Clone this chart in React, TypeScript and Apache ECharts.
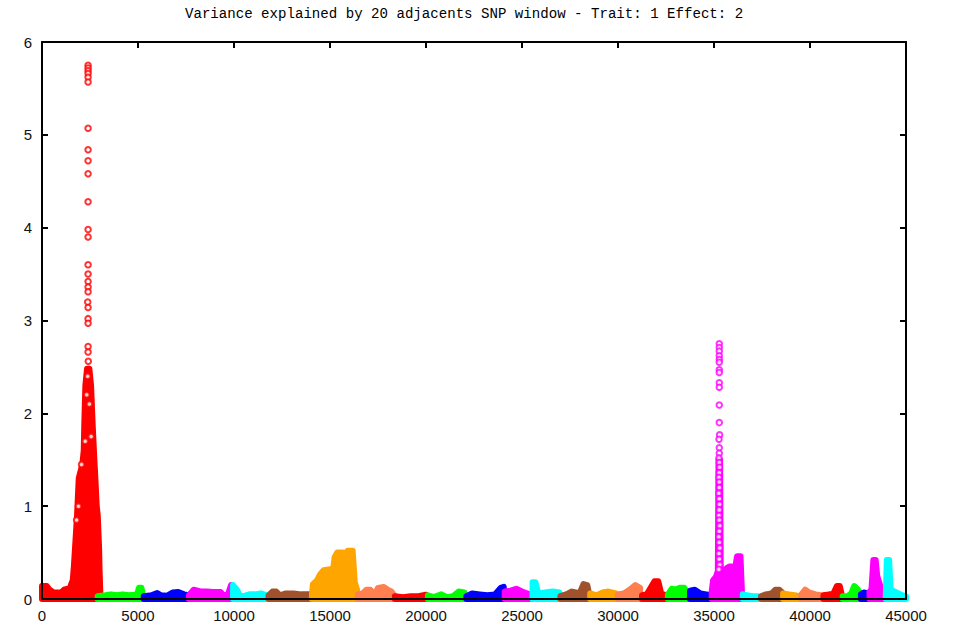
import React, { useEffect, useRef } from "react";
import * as echarts from "echarts";

type Pt = [number, number];

const titleText = "Variance explained by 20 adjacents SNP window - Trait: 1 Effect: 2";
const palette = ["#ff0000", "#00ff00", "#0000ff", "#ff00ff", "#00ffff", "#a0522d", "#ffa500", "#ff7f50"];
const xTickStep = 5000;
const yTickStep = 1;

// envelope (upper hull) of each chromosome's windows
const chr01: Pt[] = [[0, 0.14], [250, 0.14], [400, 0.1], [600, 0.07], [1000, 0.07], [1150, 0.1], [1300, 0.11], [1450, 0.11], [1520, 0.16], [1600, 0.2], [1660, 0.35], [1720, 0.55], [1825, 0.9], [1913, 1.3], [2000, 1.37], [2100, 1.45], [2174, 1.6], [2200, 1.86], [2258, 2.3], [2346, 2.48], [2467, 2.48], [2555, 2.3], [2643, 1.86], [2727, 1.5], [2780, 1.3], [2850, 1.0], [2904, 0.9], [2975, 0.54], [3000, 0.3], [3024, 0.15], [3040, 0.05]];
const chr02: Pt[] = [[2900, 0.03], [3300, 0.04], [3600, 0.05], [3900, 0.04], [4200, 0.05], [4500, 0.04], [4800, 0.045], [4950, 0.05], [5050, 0.12], [5180, 0.12], [5250, 0.05]];
const chr03: Pt[] = [[5300, 0.03], [5700, 0.04], [6000, 0.065], [6200, 0.04], [6500, 0.035], [6800, 0.07], [7100, 0.075], [7400, 0.05], [7620, 0.04]];
const chr04: Pt[] = [[7650, 0.04], [7900, 0.1], [8100, 0.09], [8300, 0.08], [8600, 0.08], [8900, 0.075], [9300, 0.075], [9500, 0.03], [9700, 0.06], [9850, 0.15], [9920, 0.14]];
const chr05: Pt[] = [[9950, 0.15], [10150, 0.1], [10300, 0.04], [10500, 0.03], [10800, 0.05], [11100, 0.05], [11400, 0.06], [11700, 0.04]];
const chr06: Pt[] = [[11800, 0.04], [12000, 0.08], [12200, 0.08], [12400, 0.04], [12700, 0.06], [13100, 0.06], [13500, 0.05], [14000, 0.05]];
const chr07: Pt[] = [[14060, 0.05], [14110, 0.16], [14320, 0.2], [14500, 0.27], [14670, 0.31], [15020, 0.32], [15140, 0.28], [15240, 0.45], [15370, 0.5], [15680, 0.5], [15760, 0.25], [15920, 0.52], [16180, 0.52], [16290, 0.18], [16410, 0.1]];
const chr08: Pt[] = [[16450, 0.05], [16700, 0.06], [16900, 0.1], [17100, 0.1], [17300, 0.04], [17500, 0.12], [17800, 0.13], [18000, 0.1], [18200, 0.08], [18350, 0.04]];
const chr09: Pt[] = [[18380, 0.03], [18800, 0.02], [19200, 0.03], [19600, 0.03], [20000, 0.045]];
const chr10: Pt[] = [[20100, 0.04], [20400, 0.02], [20800, 0.05], [21100, 0.02], [21400, 0.03], [21700, 0.08], [22000, 0.07]];
const chr11: Pt[] = [[22100, 0.03], [22400, 0.06], [22800, 0.05], [23200, 0.04], [23600, 0.05], [23900, 0.12], [24050, 0.13]];
const chr12: Pt[] = [[24100, 0.08], [24400, 0.09], [24700, 0.11], [25000, 0.08], [25400, 0.05]];
const chr13: Pt[] = [[25550, 0.18], [25700, 0.18], [25850, 0.06], [26200, 0.07], [26600, 0.08], [26950, 0.07]];
const chr14: Pt[] = [[27000, 0.03], [27300, 0.05], [27600, 0.08], [27800, 0.07], [28000, 0.06], [28200, 0.16], [28400, 0.15], [28500, 0.05]];
const chr15: Pt[] = [[28550, 0.06], [28900, 0.04], [29200, 0.07], [29500, 0.08], [29900, 0.06]];
const chr16: Pt[] = [[30000, 0.05], [30300, 0.06], [30600, 0.1], [30900, 0.15], [31150, 0.12]];
const chr17: Pt[] = [[31250, 0.04], [31500, 0.05], [31700, 0.12], [31900, 0.19], [32100, 0.19], [32250, 0.06], [32500, 0.04]];
const chr18: Pt[] = [[32600, 0.05], [32800, 0.11], [33000, 0.1], [33200, 0.12], [33450, 0.12], [33650, 0.06]];
const chr19: Pt[] = [[33750, 0.09], [34000, 0.1], [34300, 0.06], [34600, 0.05], [34850, 0.04]];
const chr20: Pt[] = [[34880, 0.08], [34950, 0.2], [35100, 0.24], [35200, 0.3], [35235, 1.5], [35315, 1.5], [35350, 0.3], [35500, 0.3], [35650, 0.33], [35800, 0.35], [35950, 0.35], [36100, 0.33], [36200, 0.46], [36380, 0.46], [36450, 0.1]];
const chr21: Pt[] = [[36500, 0.05], [36700, 0.04], [37000, 0.03], [37300, 0.03]];
const chr22: Pt[] = [[37450, 0.03], [37700, 0.05], [38000, 0.06], [38200, 0.1], [38400, 0.1], [38550, 0.07]];
const chr23: Pt[] = [[38600, 0.06], [38900, 0.05], [39200, 0.04], [39450, 0.03]];
const chr24: Pt[] = [[39550, 0.05], [39750, 0.1], [39950, 0.07], [40300, 0.05], [40600, 0.04]];
const chr25: Pt[] = [[40700, 0.04], [41000, 0.05], [41200, 0.05], [41400, 0.14], [41550, 0.14], [41650, 0.05]];
const chr26: Pt[] = [[41700, 0.03], [41950, 0.03], [42150, 0.06], [42300, 0.14], [42500, 0.1], [42650, 0.04]];
const chr27: Pt[] = [[42650, 0.05], [42800, 0.07], [43000, 0.06], [43100, 0.03]];
const chr28: Pt[] = [[43100, 0.08], [43200, 0.1], [43300, 0.42], [43420, 0.42], [43500, 0.25], [43650, 0.15], [43850, 0.05]];
const chr29: Pt[] = [[43950, 0.05], [44000, 0.42], [44120, 0.42], [44200, 0.1], [44500, 0.07], [44800, 0.04], [45000, 0.03]];

const chromosomes: Pt[][] = [chr01, chr02, chr03, chr04, chr05, chr06, chr07, chr08, chr09, chr10, chr11, chr12, chr13, chr14, chr15, chr16, chr17, chr18, chr19, chr20, chr21, chr22, chr23, chr24, chr25, chr26, chr27, chr28, chr29];

// isolated windows above the dense cores
const chr01PeakPoints: Pt[] = [[2400, 5.75], [2400, 5.72], [2400, 5.69], [2400, 5.66], [2400, 5.62], [2400, 5.57], [2400, 5.07], [2400, 4.84], [2400, 4.72], [2400, 4.58], [2400, 4.28], [2400, 3.98], [2400, 3.9], [2400, 3.6], [2400, 3.5], [2400, 3.42], [2400, 3.36], [2400, 3.31], [2380, 3.2], [2400, 3.14], [2400, 3.02], [2400, 2.97], [2400, 2.72], [2400, 2.66], [2410, 2.56], [2380, 2.4], [2330, 2.2], [2470, 2.1], [2250, 1.7], [2560, 1.75], [2060, 1.45], [1900, 1.0], [1800, 0.85]];
const chr20PeakPoints: Pt[] = [[35275, 2.75], [35275, 2.71], [35275, 2.67], [35275, 2.62], [35275, 2.58], [35275, 2.55], [35275, 2.47], [35275, 2.44], [35275, 2.33], [35275, 2.28], [35275, 2.09], [35275, 1.9], [35290, 1.77], [35260, 1.72], [35275, 1.63], [35275, 1.57], [35260, 1.52], [35275, 1.47], [35290, 1.42], [35275, 1.36], [35260, 1.31], [35275, 1.26], [35275, 1.2], [35250, 1.14], [35275, 1.08], [35290, 1.02], [35275, 0.96], [35260, 0.9], [35275, 0.85], [35300, 0.79], [35275, 0.73], [35250, 0.67], [35275, 0.61], [35300, 0.55], [35260, 0.49], [35275, 0.43], [35300, 0.37], [35250, 0.32]];

const FONT = "'Liberation Sans', Arial, sans-serif";

export default function App() {
  const ref = useRef<HTMLDivElement>(null);
  useEffect(() => {
    if (!ref.current) return;
    const chart = echarts.init(ref.current, undefined, { renderer: "svg" });

    const areaSeries = chromosomes.map((env, i) => {
      const x0 = env[0][0];
      const x1 = env[env.length - 1][0];
      const data: Pt[] = [[x0, 0], ...env, [x1, 0], [x0, 0]];
      const color = palette[i % palette.length];
      return {
        type: "line",
        data,
        showSymbol: false,
        symbol: "none",
        clip: false,
        silent: true,
        z: 2,
        color,
        lineStyle: { color, width: 6, join: "round", cap: "round" },
        areaStyle: { color, opacity: 1 },
      };
    });

    const ringSeries = (data: Pt[], color: string) => ({
      type: "scatter",
      data,
      symbol: "emptyCircle",
      symbolSize: 5.5,
      clip: false,
      silent: true,
      z: 3,
      itemStyle: { color, borderColor: color, borderWidth: 2 },
    });

    const axisLine = { show: true, onZero: false, lineStyle: { color: "#000", width: 2 } };
    const tick = { show: true, inside: true, length: 6, lineStyle: { color: "#000", width: 2 } };
    const plain = (v: number) => String(v);

    chart.setOption({
      animation: false,
      backgroundColor: "#fff",
      title: {
        text: titleText,
        left: 185,
        top: 7,
        padding: 0,
        textStyle: { fontFamily: "'Liberation Mono', 'DejaVu Sans Mono', monospace", fontSize: 14.1, fontWeight: "normal", color: "#000" },
      },
      grid: { left: 42, right: 52, top: 42, bottom: 34, show: false },
      xAxis: [
        {
          type: "value", position: "bottom", min: 0, max: 45000, interval: xTickStep, z: 10,
          axisLine, axisTick: { show: false }, splitLine: { show: false },
          axisLabel: { color: "#111", fontFamily: FONT, fontSize: 15, margin: 9, showMinLabel: true, showMaxLabel: true, formatter: plain },
        },
        {
          type: "value", position: "top", min: 0, max: 45000, interval: xTickStep, z: 10,
          axisLine, axisTick: tick, splitLine: { show: false }, axisLabel: { show: false },
        },
      ],
      yAxis: [
        {
          type: "value", position: "left", min: 0, max: 6, interval: yTickStep, z: 10,
          axisLine, axisTick: tick, splitLine: { show: false },
          axisLabel: { color: "#111", fontFamily: FONT, fontSize: 15, margin: 10, formatter: plain },
        },
        {
          type: "value", position: "right", min: 0, max: 6, interval: yTickStep, z: 10,
          axisLine, axisTick: tick, splitLine: { show: false }, axisLabel: { show: false },
        },
      ],
      series: [
        ...areaSeries,
        ringSeries(chr01PeakPoints, palette[0]),
        ringSeries(chr20PeakPoints, palette[3]),
      ],
    });
    return () => chart.dispose();
  }, []);
  return <div ref={ref} style={{ position: "fixed", left: 0, top: 0, width: 958, height: 633, background: "#fff" }} />;
}
